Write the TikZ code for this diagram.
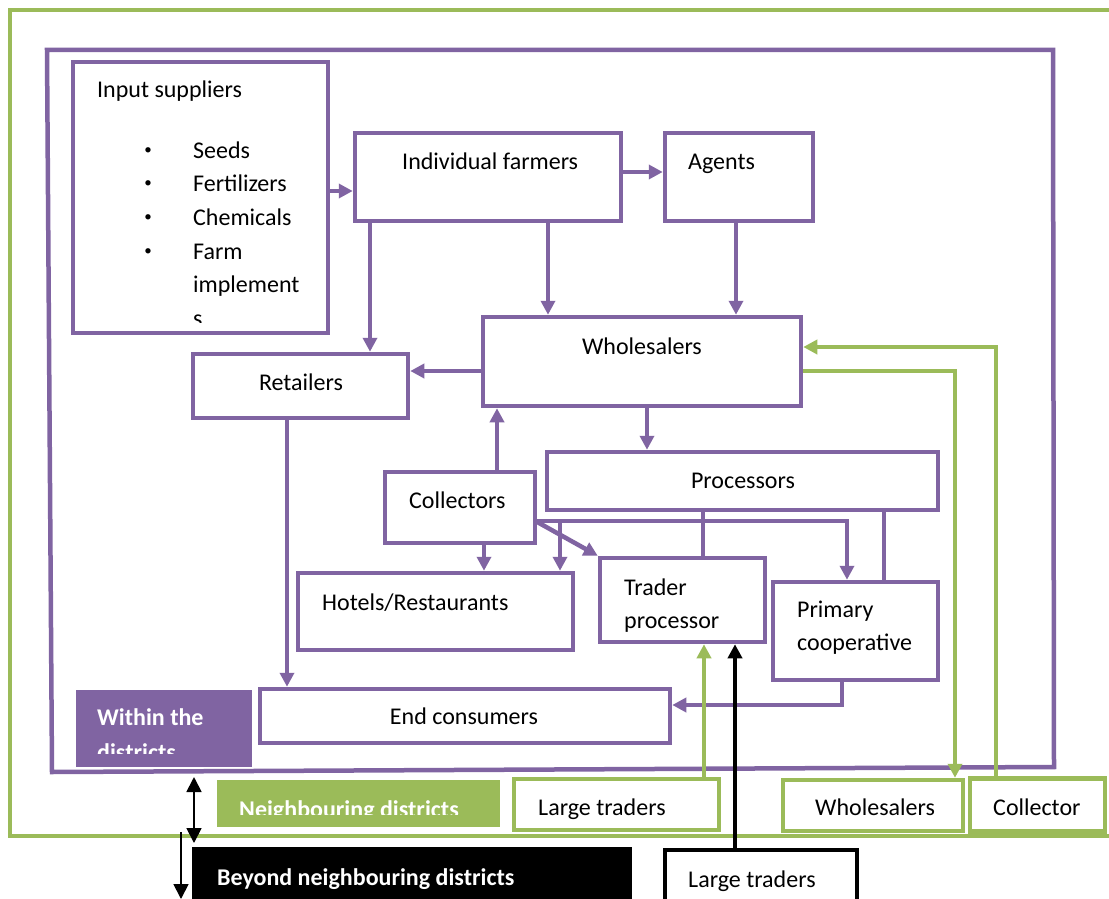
\documentclass[tikz,border=0pt]{standalone}
\usepackage{fontspec}
\setmainfont{Carlito}
\usetikzlibrary{arrows.meta,calc}
\definecolor{pur}{HTML}{8064A2}
\definecolor{grn}{HTML}{9BBB59}
\tikzset{
  pbox/.style={draw=pur, line width=4.5pt, fill=white, rectangle, inner sep=0pt},
  gbox/.style={draw=grn, line width=4.5pt, fill=white, rectangle, inner sep=0pt},
  kbox/.style={draw=black, line width=4.5pt, fill=white, rectangle, inner sep=0pt},
  fillbox/.style={rectangle, inner sep=0pt, draw=none},
  txt/.style={anchor=base west, inner sep=0pt},
  ctxt/.style={anchor=base, inner sep=0pt},
  bullet/.style={anchor=center, inner sep=0pt, font=\fontsize{15}{15}\selectfont},
  wtxt/.style={anchor=base west, inner sep=0pt, text=white, font=\fontsize{24}{28}\selectfont\bfseries},
  tip/.style={-{Triangle[length=14pt,width=14pt]}},
  parr/.style={draw=pur, line width=4.5pt, tip},
  pline/.style={draw=pur, line width=4.5pt},
  garr/.style={draw=grn, line width=4.5pt, tip},
  karr/.style={draw=black, line width=4.5pt, tip},
  thinarr/.style={draw=black, line width=1.8pt, -{Triangle[length=15pt,width=15pt]}},
}
\begin{document}
\begin{tikzpicture}[x=1pt, y=-1pt, font=\fontsize{24}{28}\selectfont]
\useasboundingbox (0,0) rectangle (1109,899);
\clip (0,0) rectangle (1109,899);
\fill[white] (0,0) rectangle (1109,899);

% outer frames
\draw[draw=grn, line width=4.5pt] (1115,10) -- (10,10) -- (10,836) -- (1115,836);
\draw[draw=pur, line width=4.5pt] (47,50) -- (1053,50) -- (1054,767) -- (52,772) -- cycle;

% boxes (within districts)
\node[pbox, minimum width=255pt, minimum height=271pt] (inp) at (200.5,197.5) {};
\node[pbox, minimum width=266pt, minimum height=88pt] (ifarm) at (488,177) {};
\node[pbox, minimum width=148pt, minimum height=88pt] (agents) at (739,177) {};
\node[pbox, minimum width=318pt, minimum height=89pt] (whole) at (642,361.5) {};
\node[pbox, minimum width=215pt, minimum height=64pt] (ret) at (300.5,386) {};
\node[pbox, minimum width=391pt, minimum height=58pt] (proc) at (742.5,481) {};
\node[pbox, minimum width=150pt, minimum height=71pt] (coll) at (460,507.5) {};
\node[pbox, minimum width=275pt, minimum height=77pt] (hotel) at (435.5,611.5) {};
\node[pbox, minimum width=165pt, minimum height=84pt] (trader) at (682.5,600) {};
\node[pbox, minimum width=165pt, minimum height=98pt] (coop) at (855.5,631) {};
\node[pbox, minimum width=410pt, minimum height=54pt] (endc) at (465,716) {};
\node[fillbox, fill=pur, minimum width=176pt, minimum height=77pt] (within) at (164,728.5) {};

% boxes outside
\node[fillbox, fill=grn, minimum width=283pt, minimum height=47pt] (neigh) at (358.5,803.5) {};
\node[fillbox, fill=black, minimum width=440pt, minimum height=60pt] (beyond) at (412,877) {};
\node[gbox, minimum width=205pt, minimum height=51pt] (lt1) at (616.5,804.5) {};
\node[gbox, minimum width=180pt, minimum height=51pt] (wh2) at (873,805.5) {};
\node[gbox, minimum width=135pt, minimum height=53pt] (col2) at (1037.5,805) {};
\node[kbox, minimum width=192pt, minimum height=60pt] (lt2) at (761,880) {};

% texts
\node[txt] (inp-t) at (97,97) {Input suppliers};
\node[bullet] (bu1) at (148,151) {•};
\node[bullet] (bu2) at (148,184) {•};
\node[bullet] (bu3) at (148,218) {•};
\node[bullet] (bu4) at (148,252) {•};
\node[txt] (it1) at (193,158) {Seeds};
\node[txt] (it2) at (193,191) {Fertilizers};
\node[txt] (it3) at (193,225) {Chemicals};
\node[txt] (it4) at (193,259) {Farm};
\node[txt] (it5) at (193,292) {implement};
\begin{scope}
  \clip (80,300) rectangle (320,322);
  \node[txt] (it6) at (193,326) {s};
\end{scope}
\node[txt] (ifarm-t) at (402,169) {Individual farmers};
\node[txt] (agents-t) at (688,169) {Agents};
\node[ctxt] (whole-t) at (642,354) {Wholesalers};
\node[ctxt] (ret-t) at (301,390) {Retailers};
\node[ctxt] (proc-t) at (743,488) {Processors};
\node[txt] (coll-t) at (409,508) {Collectors};
\node[txt] (hotel-t) at (322,610) {Hotels/Restaurants};
\node[txt] (trader-t1) at (624,595) {Trader};
\node[txt] (trader-t2) at (624,628) {processor};
\node[txt] (coop-t1) at (797,617) {Primary};
\node[txt] (coop-t2) at (797,650) {cooperative};
\node[ctxt] (endc-t) at (464,724) {End consumers};
\node[wtxt] (within-t1) at (97,725) {Within the};
\begin{scope}
  \clip (76,735) rectangle (252,753);
  \node[wtxt] (within-t2) at (97,760) {districts};
\end{scope}
\begin{scope}
  \clip (217,785) rectangle (500,814);
  \node[wtxt] (neigh-t) at (239,817) {Neighbouring districts};
\end{scope}
\node[wtxt] (beyond-t) at (217,885) {Beyond neighbouring districts};
\node[txt] (lt1-t) at (538,815) {Large traders};
\node[txt] (wh2-t) at (815,815) {Wholesalers};
\node[txt] (col2-t) at (993,815) {Collector};
\node[txt] (lt2-t) at (688,887) {Large traders};

% purple connectors
\draw[parr] (inp.east |- 0,191) -- (ifarm.west |- 0,191);
\draw[parr] (ifarm.east |- 0,172) -- (agents.west |- 0,172);
\draw[parr] (ifarm.south -| 370,0) -- (ret.north -| 370,0);
\draw[parr] (ifarm.south -| 548,0) -- (whole.north -| 548,0);
\draw[parr] (agents.south -| 736,0) -- (whole.north -| 736,0);
\draw[parr] (whole.west |- 0,371) -- (ret.east |- 0,371);
\draw[parr] (whole.south -| 647,0) -- (proc.north -| 647,0);
\draw[parr] (coll.north -| 497,0) -- (whole.south -| 497,0);
\draw[parr] (coll.south -| 484,0) -- (hotel.north -| 484,0);
\draw[parr] (coll.east |- 0,521) -| (coop.north -| 847,0);
\coordinate (br) at (560,521);
\draw[parr] (br) -- (hotel.north -| br);
\draw[parr] (coll.east |- 0,522) -- (trader.north west);
\draw[pline] (proc.south -| 703,0) -- (trader.north -| 703,0);
\draw[pline] (proc.south -| 884,0) -- (coop.north -| 884,0);
\draw[parr] (coop.south -| 842,0) |- (endc.east |- 0,705);
\draw[parr] (ret.south -| 287,0) -- (endc.north -| 287,0);

% green connectors
\draw[garr] (lt1.north -| 704,0) -- (trader.south -| 704,0);
\draw[garr] (whole.east |- 0,371) -| (wh2.north -| 955,0);
\draw[garr] (col2.north -| 996,0) |- (whole.east |- 0,347);

% black connectors
\draw[karr] (lt2.north -| 735,0) -- (trader.south -| 735,0);
\coordinate (d1) at (194,777);
\coordinate (d2) at (194,843);
\draw[thinarr, {Triangle[length=15pt,width=15pt]}-{Triangle[length=15pt,width=15pt]}] (d1) -- (d2);
\coordinate (d3) at (181,832);
\coordinate (d4) at (181,899);
\draw[thinarr] (d3) -- (d4);
\end{tikzpicture}
\end{document}
